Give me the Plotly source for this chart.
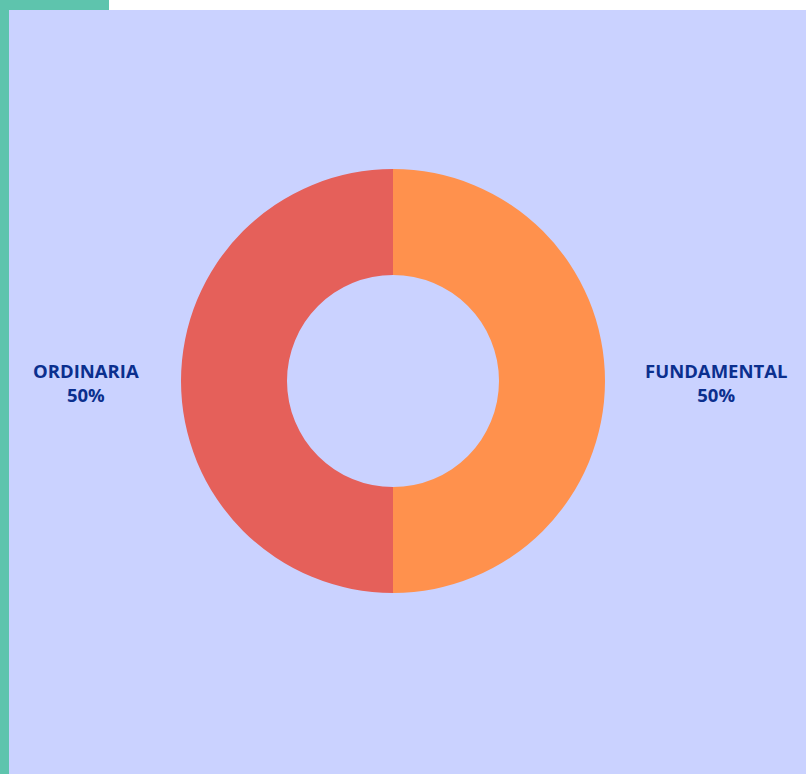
import plotly.graph_objects as go

# Data
categories = ["FUNDAMENTAL", "ORDINARIA"]
values = [50, 50]
slice_colors = ["#FF914D", "#E5605A"]

W, H = 806, 774
BG = "#CAD2FF"
GREEN = "#5EC4AD"
TEXT = "#0B2F8E"

cx, cy, R = 393, 381, 212

fig = go.Figure(go.Pie(
    labels=categories,
    values=values,
    marker=dict(colors=slice_colors, line=dict(width=0)),
    hole=0.5,
    sort=False,
    direction="clockwise",
    rotation=0,
    textinfo="none",
    hoverinfo="label+percent",
    showlegend=False,
    domain=dict(x=[(cx - R) / W, (cx + R) / W], y=[1 - (cy + R) / H, 1 - (cy - R) / H]),
))

total = sum(values)
label_x = {"FUNDAMENTAL": 716, "ORDINARIA": 86}
annotations = []
for cat, v in zip(categories, values):
    annotations.append(dict(
        x=label_x[cat] / W, y=1 - 382 / H, xref="paper", yref="paper",
        text=f"<b>{cat}<br>{round(v / total * 100)}%</b>",
        showarrow=False, align="center",
        font=dict(family="Open Sans", size=18.5, color=TEXT),
        xanchor="center", yanchor="middle",
    ))

shapes = [
    dict(type="rect", xref="paper", yref="paper", x0=109 / W, x1=1, y0=1 - 10 / H, y1=1,
         fillcolor="white", line=dict(width=0), layer="below"),
    dict(type="rect", xref="paper", yref="paper", x0=0, x1=109 / W, y0=1 - 10 / H, y1=1,
         fillcolor=GREEN, line=dict(width=0), layer="below"),
    dict(type="rect", xref="paper", yref="paper", x0=0, x1=9 / W, y0=0, y1=1,
         fillcolor=GREEN, line=dict(width=0), layer="below"),
]

fig.update_layout(
    width=W, height=H,
    margin=dict(l=0, r=0, t=0, b=0),
    paper_bgcolor=BG, plot_bgcolor=BG,
    annotations=annotations,
    shapes=shapes,
)

fig.write_html(
    "out.html",
    config={"displayModeBar": False},
    post_script="document.body.style.margin='0';document.body.style.overflow='hidden';",
)
